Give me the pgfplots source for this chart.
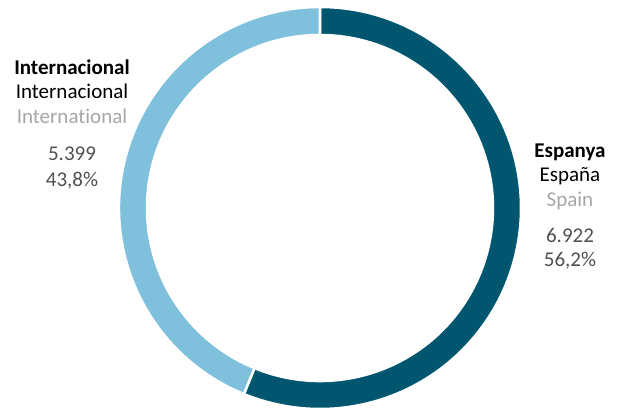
\documentclass[border=0pt]{standalone}
\usepackage{pgfplots}
\pgfplotsset{compat=1.18}
\usepackage{pgfplotstable}
\usepackage{fontspec}
\setmainfont{Carlito}[Ligatures={NoCommon}]
\definecolor{esp}{HTML}{00566F}
\definecolor{intl}{HTML}{7FC1DC}
\definecolor{engl}{HTML}{A6A6A6}
\definecolor{num}{HTML}{505050}
\pgfplotstableread{
label value
Espanya 6922
Internacional 5399
}\donutdata
\begin{document}
\begin{tikzpicture}
\pgfplotstablegetelem{0}{value}\of\donutdata \let\vA\pgfplotsretval
\pgfplotstablegetelem{1}{value}\of\donutdata \let\vB\pgfplotsretval
\pgfmathsetmacro\fA{\vA/(\vA+\vB)}
\pgfmathsetmacro\fB{\vB/(\vA+\vB)}
\pgfmathsetmacro\aA{90-360*\fA}
\pgfmathsetmacro\aB{\aA-360*\fB}
\begin{axis}[scale only axis, width=619pt, height=408pt, at={(0,0)}, anchor=south west,
  xmin=0, xmax=619, ymin=0, ymax=408, hide axis, clip=false]
\coordinate (C) at (axis cs:320,200);
\fill[esp, draw=white, line width=2.5pt]
  ([shift={(90:201pt)}]C) arc[start angle=90, end angle=\aA, radius=201pt]
  -- ([shift={(\aA:173pt)}]C) arc[start angle=\aA, end angle=90, radius=173pt] -- cycle;
\fill[intl, draw=white, line width=2.5pt]
  ([shift={(\aA:201pt)}]C) arc[start angle=\aA, end angle=\aB, radius=201pt]
  -- ([shift={(\aB:173pt)}]C) arc[start angle=\aB, end angle=\aA, radius=173pt] -- cycle;
% left labels
\node[anchor=base, inner sep=0, font=\fontsize{21}{25}\selectfont\bfseries] at (axis cs:72,334) {Internacional};
\node[anchor=base, inner sep=0, font=\fontsize{21}{25}\selectfont] at (axis cs:72,309.5) {Internacional};
\node[anchor=base, inner sep=0, font=\fontsize{21}{25}\selectfont, text=engl] at (axis cs:72,285) {International};
\node[anchor=base, inner sep=0, font=\fontsize{21}{25}\selectfont, text=num] at (axis cs:72,248) {5.399};
\node[anchor=base, inner sep=0, font=\fontsize{21}{25}\selectfont, text=num] at (axis cs:72,222) {43,8\%};
% right labels
\node[anchor=base, inner sep=0, font=\fontsize{21}{25}\selectfont\bfseries] at (axis cs:570,251) {Espanya};
\node[anchor=base, inner sep=0, font=\fontsize{21}{25}\selectfont] at (axis cs:570,226.5) {España};
\node[anchor=base, inner sep=0, font=\fontsize{21}{25}\selectfont, text=engl] at (axis cs:570,202) {Spain};
\node[anchor=base, inner sep=0, font=\fontsize{21}{25}\selectfont, text=num] at (axis cs:570,166) {6.922};
\node[anchor=base, inner sep=0, font=\fontsize{21}{25}\selectfont, text=num] at (axis cs:570,141.5) {56,2\%};
\end{axis}
\pgfresetboundingbox
\path[use as bounding box] (0,0) rectangle (619pt,408pt);
\end{tikzpicture}
\end{document}
